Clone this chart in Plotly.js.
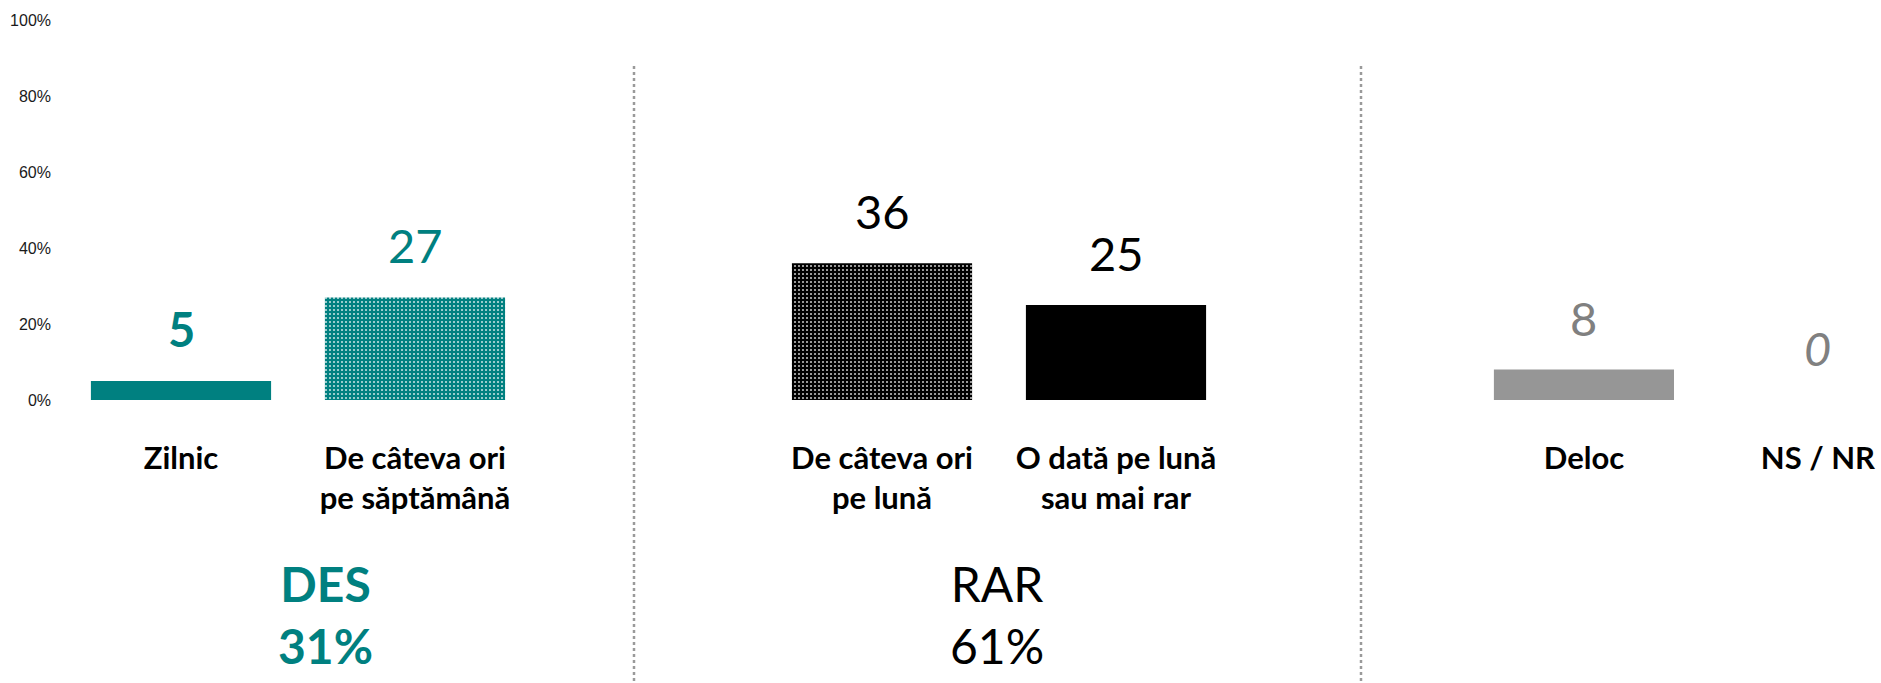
<!DOCTYPE html>
<html>
<head>
<meta charset="utf-8">
<script src="https://cdn.plot.ly/plotly-3.0.1.min.js"></script>
<style>
  html, body { margin: 0; padding: 0; background: #ffffff; }
  #chart { width: 1881px; height: 683px; }
</style>
</head>
<body>
<div id="chart"></div>
<script>
// ---------- DATA ----------
const categories = [
  'Zilnic',
  'De câteva ori<br>pe săptămână',
  'De câteva ori<br>pe lună',
  'O dată pe lună<br>sau mai rar',
  'Deloc',
  'NS / NR'
];
const values = [5, 27, 36, 25, 8, 0];
const groupIndex = [0, 0, 1, 1, 2, 2];
const groupNames = ['DES', 'RAR', ''];
const groupTotals = ['31%', '61%', ''];
const yTickValues = [0, 20, 40, 60, 80, 100];
const yTickLabels = ['0%', '20%', '40%', '60%', '80%', '100%'];

// ---------- STYLE ----------
const TEAL = '#008080';
const barColors   = [TEAL, TEAL, '#000000', '#000000', '#969696', '#969696'];
const barPatterns = ['', '.', '.', '', '', ''];
const labelColors = [TEAL, TEAL, '#000000', '#000000', '#808080', '#808080'];
const labelBold   = [true, false, false, false, false, false];
const labelItalic = [false, false, false, false, false, true];
const groupColors = [TEAL, '#000000', '#000000'];
const groupBold   = [true, false, false];
const groupLabelX = [0.1728, 0.530, 0.9];
const FONT = 'Lato, "Open Sans", "DejaVu Sans", sans-serif';

const W = 1881;
const domains = [
  [64 / W, 532 / W],
  [765 / W, 1233 / W],
  [1467 / W, 1]
];
const ranges = [[-0.5, 1.5], [-0.5, 1.5], [-0.5, 1.27]];
const axisIds = ['x', 'x2', 'x3'];

const traces = [];
const annotations = [];
const layout = {
  width: 1881,
  height: 683,
  margin: { l: 0, r: 0, t: 20, b: 283 },
  paper_bgcolor: '#ffffff',
  plot_bgcolor: '#ffffff',
  showlegend: false,
  bargap: 0.23,
  font: { family: FONT, color: '#000000' },
  yaxis: {
    range: [0, 100],
    tickmode: 'array',
    tickvals: yTickValues,
    ticktext: yTickLabels,
    showgrid: false,
    zeroline: false,
    showline: false,
    ticks: '',
    ticklabelstandoff: 12,
    automargin: false,
    fixedrange: true,
    tickfont: { family: 'Arial, "Liberation Sans", sans-serif', size: 16, color: '#1a1a1a' }
  },
  shapes: [],
  annotations: annotations
};

for (let g = 0; g < 3; g++) {
  const idx = [];
  groupIndex.forEach((gi, i) => { if (gi === g) idx.push(i); });
  const axKey = g === 0 ? 'xaxis' : 'xaxis' + (g + 1);
  layout[axKey] = {
    domain: domains[g],
    range: ranges[g],
    type: 'category',
    anchor: 'y',
    showgrid: false,
    zeroline: false,
    showline: false,
    ticks: '',
    ticklabelstandoff: 37,
    automargin: false,
    fixedrange: true,
    tickfont: { family: FONT, size: 31, color: '#000000', weight: 'bold' }
  };
  traces.push({
    type: 'bar',
    x: idx.map(i => categories[i]),
    y: idx.map(i => values[i]),
    xaxis: axisIds[g],
    yaxis: 'y',
    hoverinfo: 'x+y',
    marker: {
      color: idx.map(i => barColors[i]),
      line: { width: 0 },
      pattern: {
        shape: idx.map(i => barPatterns[i]),
        fgcolor: '#ffffff',
        fgopacity: 0.75,
        size: 4,
        solidity: 0.22,
        fillmode: 'overlay'
      }
    }
  });
  // value labels above bars
  idx.forEach(i => {
    let t = String(values[i]);
    if (labelBold[i]) t = '<b>' + t + '</b>';
    if (labelItalic[i]) t = '<i>' + t + '</i>';
    annotations.push({
      xref: axisIds[g], yref: 'y',
      x: categories[i], y: values[i],
      yanchor: 'bottom', xanchor: 'center',
      yshift: 22,
      showarrow: false,
      text: t,
      font: { family: FONT, size: 47, color: labelColors[i] }
    });
  });
  // group summary labels
  if (groupNames[g]) {
    let t = groupNames[g] + '<br>' + groupTotals[g];
    if (groupBold[g]) t = '<b>' + t + '</b>';
    annotations.push({
      xref: 'paper', yref: 'paper',
      x: groupLabelX[g], y: (400 - 614) / 380,
      xanchor: 'center', yanchor: 'middle',
      showarrow: false,
      text: t,
      font: { family: FONT, size: 48, color: groupColors[g] }
    });
  }
}

// dotted separators between groups
[634 / W, 1361 / W].forEach(xp => {
  layout.shapes.push({
    type: 'line', xref: 'paper', yref: 'paper',
    x0: xp, x1: xp, y0: (400 - 66) / 380, y1: (400 - 683) / 380,
    line: { color: '#9a9a9a', width: 2.5, dash: 'dot' }
  });
});

Plotly.newPlot('chart', traces, layout, { displayModeBar: false, staticPlot: true });
</script>
</body>
</html>
